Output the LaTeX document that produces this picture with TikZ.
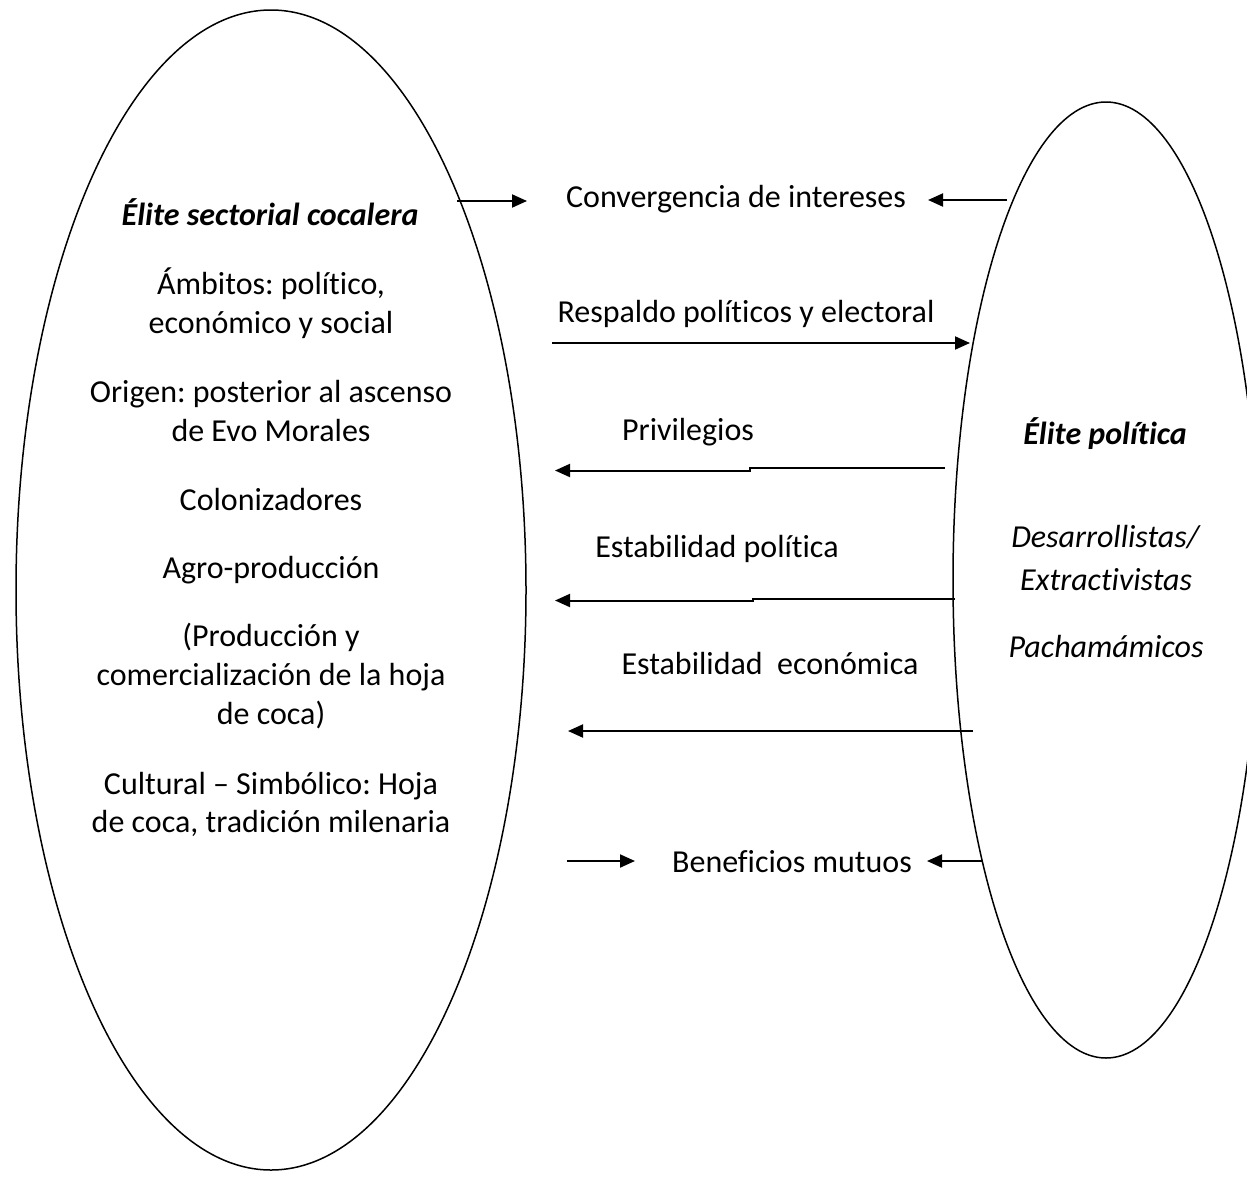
\documentclass[tikz,border=0pt]{standalone}
\usepackage{fontspec}
\setmainfont{Carlito}[Ligatures={NoCommon}]
\frenchspacing
\usetikzlibrary{shapes.geometric,arrows.meta}
\begin{document}
\begin{tikzpicture}[x=0.5pt,y=-0.5pt,
  ell/.style={draw, ellipse, line width=0.75pt, inner sep=0pt},
  txt/.style={anchor=base, inner sep=0pt, font=\fontsize{16}{19.5}\selectfont},
  conn/.style={line width=1pt, -{Triangle[length=7.5pt,width=6.5pt]}},
]
\useasboundingbox (0,0) rectangle (1247,1194);
% ellipses
\node[ell, minimum width=255pt, minimum height=580pt] (L) at (271,590) {};
\node[ell, minimum width=153pt, minimum height=478pt] (R) at (1106,580) {};
% left ellipse texts
\node[txt] (l1) at (270,225) {\textbf{\textit{Élite sectorial cocalera}}};
\node[txt] (l2) at (271,294) {Ámbitos: político,};
\node[txt] (l3) at (271,333) {económico y social};
\node[txt] (l4) at (271,402) {Origen: posterior al ascenso};
\node[txt] (l5) at (271,441) {de Evo Morales};
\node[txt] (l6) at (271,510) {Colonizadores};
\node[txt] (l7) at (271,578) {Agro-producción};
\node[txt] (l8) at (271,646) {(Producción y};
\node[txt] (l9) at (271,685) {comercialización de la hoja};
\node[txt] (l10) at (271,724) {de coca)};
\node[txt] (l11) at (271,794) {Cultural – Simbólico: Hoja};
\node[txt] (l12) at (271,832) {de coca, tradición milenaria};
% right ellipse texts
\node[txt] (r1) at (1105,444) {\textbf{\textit{Élite política}}};
\node[txt] (r2) at (1106,547) {\textit{Desarrollistas/}};
\node[txt] (r3) at (1106,590) {\textit{Extractivistas}};
\node[txt] (r4) at (1106,657) {\textit{Pachamámicos}};
% middle labels
\node[txt] (m1) at (736,207) {Convergencia de intereses};
\node[txt] (m2) at (746,322) {Respaldo políticos y electoral};
\node[txt] (m3) at (688,440) {Privilegios};
\node[txt] (m4) at (717,557) {Estabilidad política};
\node[txt] (m5) at (770,674) {Estabilidad\ \ económica};
\node[txt] (m6) at (792,872) {Beneficios mutuos};
% connector end points
\coordinate (a1s) at (457,201); \coordinate (a1e) at (527,201);
\coordinate (a2s) at (1007,200); \coordinate (a2e) at (928,200);
\coordinate (a3s) at (552,343); \coordinate (a3e) at (970,343);
\coordinate (a4s) at (945,468); \coordinate (a4k) at (750,468);
\coordinate (a4j) at (750,470.5); \coordinate (a4e) at (555,470.5);
\coordinate (a5s) at (955,598.5); \coordinate (a5k) at (753,598.5);
\coordinate (a5j) at (753,600.5); \coordinate (a5e) at (555,600.5);
\coordinate (a6s) at (973,731); \coordinate (a6e) at (568,731);
\coordinate (a7s) at (567,861); \coordinate (a7e) at (635,861);
\coordinate (a8s) at (982,861); \coordinate (a8e) at (927,861);
% connectors
\draw[conn] (a1s) -- (a1e);
\draw[conn] (a2s) -- (a2e);
\draw[conn] (a3s) -- (a3e);
\draw[conn] (a4s) -- (a4k) -- (a4j) -- (a4e);
\draw[conn] (a5s) -- (a5k) -- (a5j) -- (a5e);
\draw[conn] (a6s) -- (a6e);
\draw[conn] (a7s) -- (a7e);
\draw[conn] (a8s) -- (a8e);
\end{tikzpicture}
\end{document}
